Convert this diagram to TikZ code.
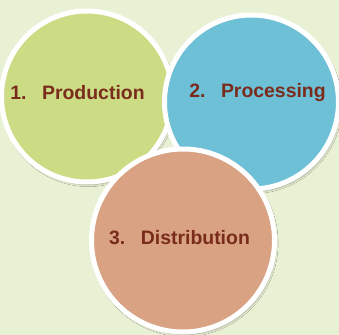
\documentclass[tikz,border=0pt]{standalone}
\usepackage{fontspec}
\setmainfont{Liberation Sans}
\usetikzlibrary{shadows.blur}
\definecolor{bgc}{HTML}{E9F1D5}
\definecolor{greenc}{HTML}{CCDC84}
\definecolor{bluec}{HTML}{6DC0D6}
\definecolor{salmonc}{HTML}{D8A283}
\definecolor{txtc}{HTML}{7A2C1C}
\tikzset{
  disc/.style={circle, draw=white, line width=5bp, inner sep=0pt,
    blur shadow={shadow xshift=1.5bp, shadow yshift=-2.5bp, shadow opacity=35, shadow blur steps=6}},
  lbl/.style={text=txtc, font=\fontsize{19.5}{23}\selectfont\bfseries, inner sep=0pt}
}
\begin{document}
\begin{tikzpicture}[x=1bp,y=-1bp]
\useasboundingbox (0,0) rectangle (339,335);
\fill[bgc] (0,0) rectangle (339,335);
\node[disc, fill=greenc, minimum size=171bp] (prod) at (87,96.5) {};
\node[disc, fill=bluec, minimum size=174bp] (proc) at (251.5,102) {};
\node[disc, fill=salmonc, minimum size=183bp] (dist) at (183,240.5) {};
\node[lbl] (t1) at (77.5,93) {1.\hspace{0.8em}Production};
\node[lbl] (t2) at (257.5,93) {2.\hspace{0.8em}Processing};
\node[lbl] (t3) at (179.5,238) {3.\hspace{0.8em}Distribution};
\end{tikzpicture}
\end{document}
